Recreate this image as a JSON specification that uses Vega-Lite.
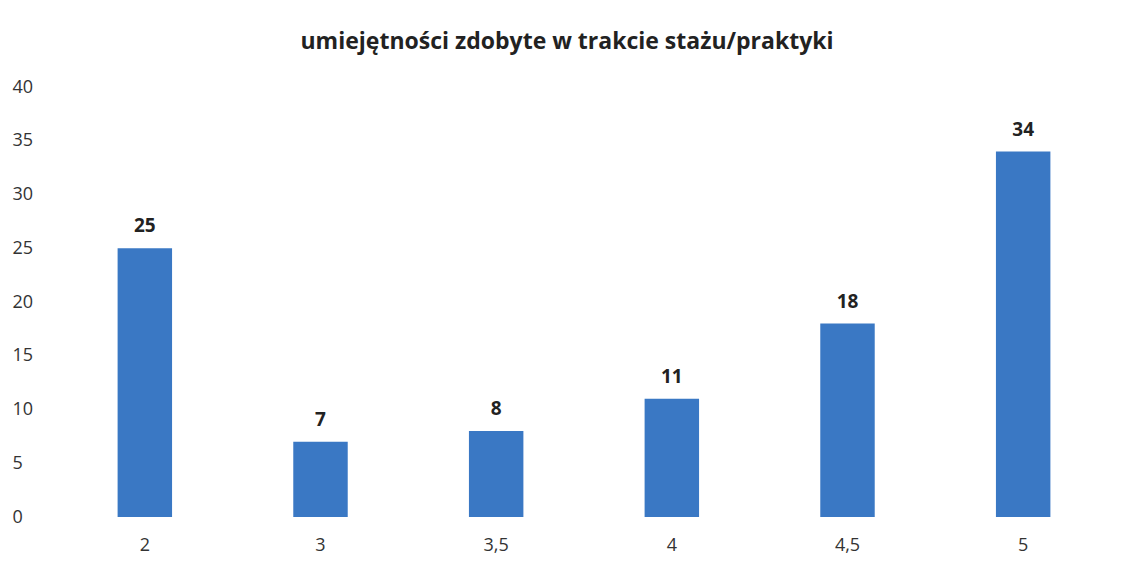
{
  "$schema": "https://vega.github.io/schema/vega-lite/v6.json",
  "autosize": {"type": "none"},
  "width": 1054,
  "height": 430,
  "padding": {"left": 57, "top": 87, "right": 19, "bottom": 60},
  "background": "white",
  "title": {
    "text": "umiejętności zdobyte w trakcie stażu/praktyki",
    "font": "Open Sans",
    "fontSize": 23,
    "fontWeight": "bold",
    "color": "#222222",
    "anchor": "middle",
    "dx": -17,
    "offset": 24
  },
  "data": {
    "values": [
      {"ocena": "2", "liczba": 25},
      {"ocena": "3", "liczba": 7},
      {"ocena": "3,5", "liczba": 8},
      {"ocena": "4", "liczba": 11},
      {"ocena": "4,5", "liczba": 18},
      {"ocena": "5", "liczba": 34}
    ]
  },
  "encoding": {
    "x": {
      "field": "ocena",
      "type": "nominal",
      "sort": null,
      "scale": {"paddingInner": 0.69, "paddingOuter": 0.345},
      "axis": {
        "title": null,
        "labelAngle": 0,
        "domain": false,
        "ticks": false,
        "labelPadding": 19,
        "labelFont": "Open Sans",
        "labelFontSize": 18,
        "labelColor": "#333333"
      }
    },
    "y": {
      "field": "liczba",
      "type": "quantitative",
      "scale": {"domain": [0, 40]},
      "axis": {
        "title": null,
        "values": [0, 5, 10, 15, 20, 25, 30, 35, 40],
        "grid": false,
        "domain": false,
        "ticks": false,
        "labelAlign": "left",
        "labelPadding": 45,
        "labelFont": "Open Sans",
        "labelFontSize": 18,
        "labelColor": "#333333"
      }
    }
  },
  "layer": [
    {"mark": {"type": "bar", "color": "#3a78c4"}},
    {
      "mark": {
        "type": "text",
        "baseline": "bottom",
        "dy": -12,
        "font": "Open Sans",
        "fontSize": 19,
        "fontWeight": "bold",
        "color": "#222222"
      },
      "encoding": {"text": {"field": "liczba", "type": "quantitative"}}
    }
  ],
  "config": {"view": {"stroke": null}}
}
